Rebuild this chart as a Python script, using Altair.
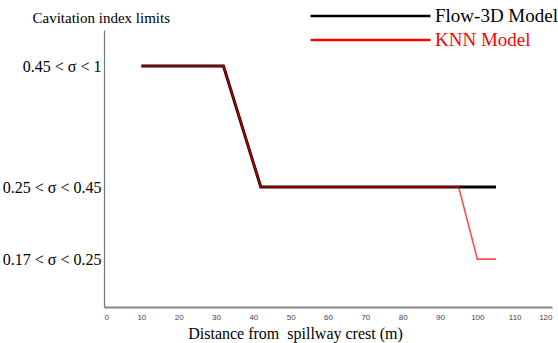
import altair as alt
import pandas as pd

# Distance along the spillway (m) and cavitation-index class reached by each model
flow_x = [10, 32, 42, 105]
flow_cls = [2, 2, 1, 1]
knn_x = [10, 32, 42, 95, 100, 105]
knn_cls = [2, 2, 1, 1, 0, 0]

# Cavitation-index classes (low to high) and where each sits on the vertical axis
class_labels = ["0.17 < σ < 0.25", "0.25 < σ < 0.45", "0.45 < σ < 1"]
class_pos = [0.173, 0.433, 0.870]

series = ["Flow-3D Model", "KNN Model"]
colors = ["black", "red"]
x_ticks = list(range(0, 121, 10))

rows = []
for x, c in zip(flow_x, flow_cls):
    rows.append({"dist": x, "level": class_pos[c], "model": series[0]})
for x, c in zip(knn_x, knn_cls):
    rows.append({"dist": x, "level": class_pos[c], "model": series[1]})
df = pd.DataFrame(rows)

label_expr = (
    f"datum.value < {(class_pos[0] + class_pos[1]) / 2} ? '{class_labels[0]}' : "
    f"datum.value < {(class_pos[1] + class_pos[2]) / 2} ? '{class_labels[1]}' : '{class_labels[2]}'"
)

serif = "Liberation Serif"

x_enc = alt.X(
    "dist:Q",
    scale=alt.Scale(domain=[0, 120], nice=False),
    axis=alt.Axis(
        values=x_ticks,
        title="Distance from \u00a0spillway crest (m)",
        titleFont=serif,
        titleFontSize=16,
        titleFontWeight="normal",
        titleColor="black",
        titleX=191,
        titleY=31,
        titleAlign="center",
        titleBaseline="alphabetic",
        labelFont="Liberation Sans",
        labelFontSize=8,
        labelColor="#444",
        labelPadding=6,
        ticks=False,
        grid=False,
        domainColor="#888",
        domainWidth=2,
    ),
)

y_enc = alt.Y(
    "level:Q",
    scale=alt.Scale(domain=[0, 1], nice=False),
    axis=alt.Axis(
        values=class_pos,
        labelExpr=label_expr,
        title="Cavitation index limits",
        titleFont=serif,
        titleFontSize=15,
        titleFontWeight="normal",
        titleColor="black",
        titleAngle=0,
        titleAlign="left",
        titleBaseline="alphabetic",
        titleX=-72,
        titleY=-8,
        labelFont=serif,
        labelFontSize=16,
        labelColor="black",
        labelPadding=3,
        ticks=False,
        grid=False,
        domainColor="#777",
        domainWidth=1.2,
    ),
)

color_enc = alt.Color(
    "model:N",
    scale=alt.Scale(domain=series, range=colors),
    legend=alt.Legend(
        title=None,
        orient="none",
        legendX=205,
        legendY=-26,
        symbolType="stroke",
        symbolSize=14400,
        symbolStrokeWidth=2.5,
        symbolOpacity=1,
        clipHeight=24,
        labelFont=serif,
        labelFontSize=19,
        labelOffset=3,
        labelColor={"expr": "datum.label == 'KNN Model' ? 'red' : 'black'"},
        rowPadding=0,
    ),
)

base = alt.Chart(df).encode(x=x_enc, y=y_enc, color=color_enc)

flow_line = base.transform_filter(alt.datum.model == series[0]).mark_line(strokeWidth=3)
knn_line = base.transform_filter(alt.datum.model == series[1]).mark_line(
    strokeWidth=1.6, opacity=0.7
)

chart = (
    alt.layer(flow_line, knn_line)
    .properties(
        width=448,
        height=277,
        autosize=alt.AutoSizeParams(type="none"),
        padding={"left": 104, "top": 30, "right": 6, "bottom": 36},
        background="white",
    )
    .configure_view(stroke=None)
)

chart.save("out.html", embed_options={"renderer": "svg", "actions": False})
